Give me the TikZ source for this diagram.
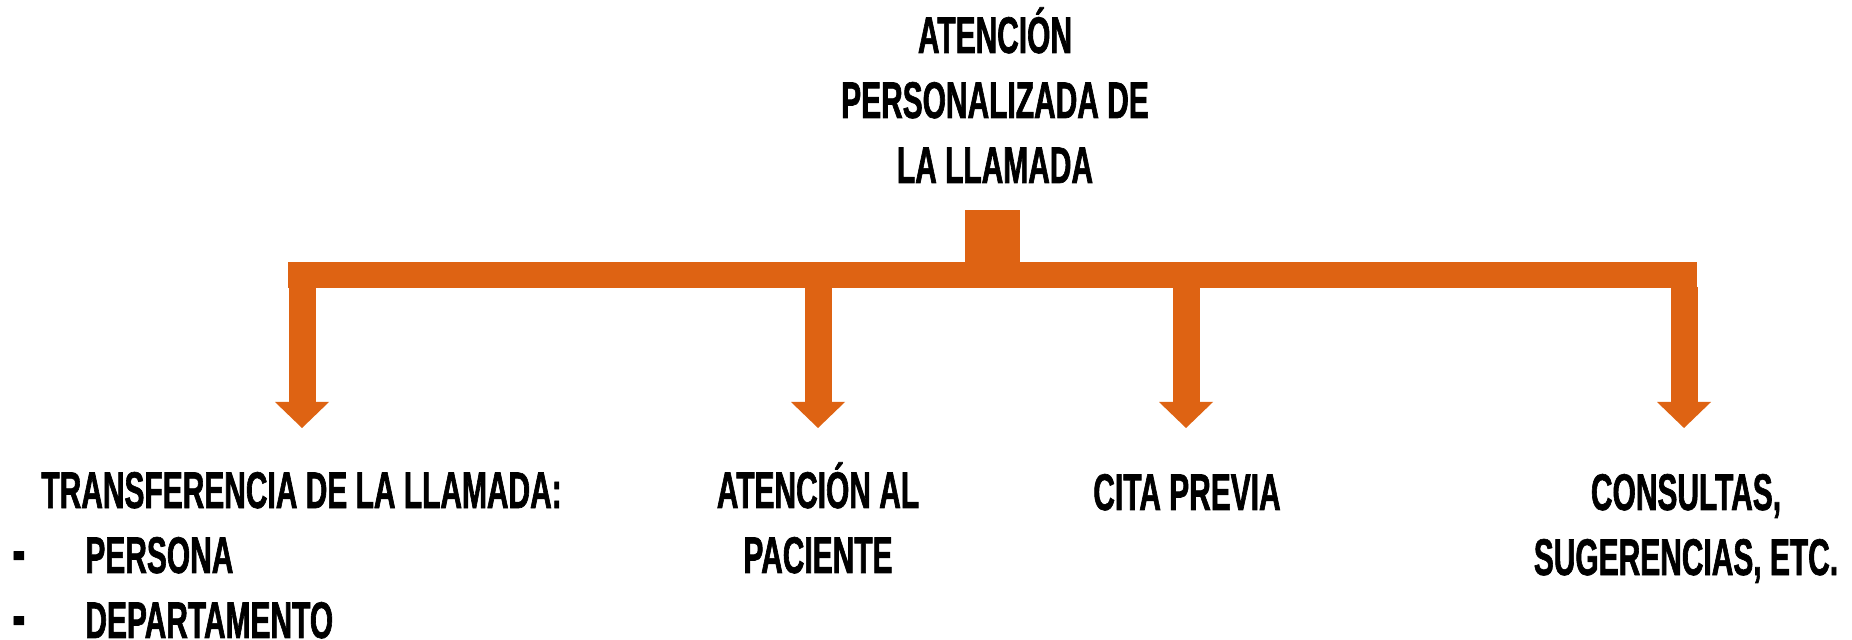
\documentclass[tikz,border=0pt]{standalone}
\usepackage{fontspec}
\newfontfamily\condfont{Liberation Sans}[FakeStretch=0.58,FakeBold=1.2]
\definecolor{brorange}{RGB}{222,99,19}
\newcommand{\bulletdash}{\makebox[36.5pt][l]{\scalebox{1.3}[1.3]{-}}}
\tikzset{
  lbl/.style={font=\condfont\bfseries\fontsize{25.8}{32.5}\selectfont, inner sep=0pt, text=black},
  bar/.style={fill=brorange, draw=none},
}
\begin{document}
\begin{tikzpicture}[x=0.5pt,y=-0.5pt]
\useasboundingbox (0,0) rectangle (1852,640);
% title (base anchor = baseline of last line)
\node[lbl, align=center, anchor=base] (title) at (995,183) {ATENCIÓN\\PERSONALIZADA DE\\LA LLAMADA};
% connector
\coordinate (stubtl) at (965,210);
\coordinate (stubbr) at (1020,262);
\fill[bar] (stubtl) rectangle (stubbr);
\fill[bar] (288,262) rectangle (1697,288);
\foreach \c/\n in {302/a,818/b,1186/c,1684/d}{
  \coordinate (top\n) at (\c,288);
  \fill[bar] (\c-13.5,287) rectangle (\c+13.5,402);
  \fill[bar] (\c-27,402) -- (\c+27,402) -- (\c,428) -- cycle;
}
% children
\node[lbl, align=left, anchor=base west] (transf) at (12,638)
  {\hspace*{14.5pt}TRANSFERENCIA DE LA LLAMADA:\\\bulletdash PERSONA\\\bulletdash DEPARTAMENTO};
\node[lbl, align=center, anchor=base] (pac) at (818,573) {ATENCIÓN AL\\PACIENTE};
\node[lbl, align=center, anchor=base] (cita) at (1187,510) {CITA PREVIA};
\node[lbl, align=center, anchor=base] (cons) at (1686,575) {CONSULTAS,\\SUGERENCIAS, ETC.};
\end{tikzpicture}
\end{document}
